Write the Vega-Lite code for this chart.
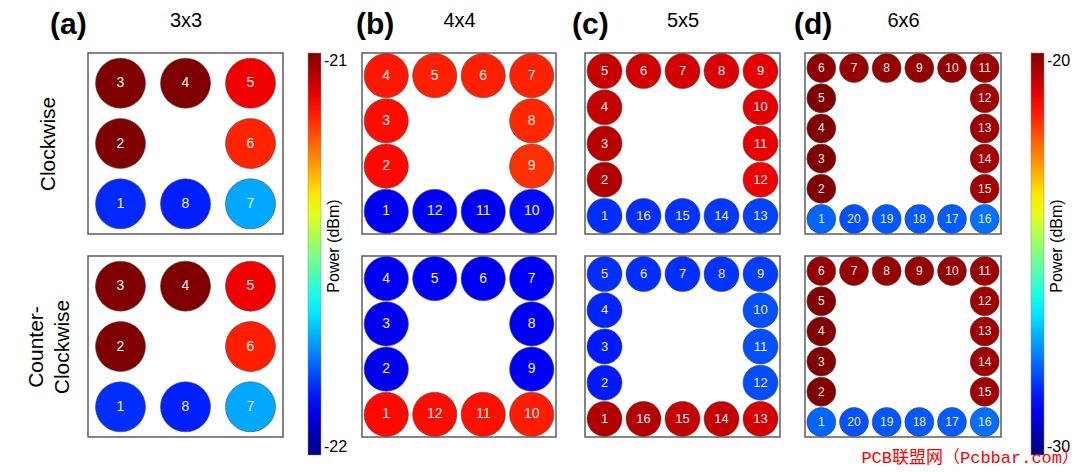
{
  "$schema": "https://vega.github.io/schema/vega-lite/v6.json",
  "padding": {"left": 24, "top": 9, "right": 0, "bottom": 0},
  "background": "white",
  "config": {
    "font": "Liberation Sans",
    "view": {"stroke": "#5e5e5e", "strokeWidth": 1.5},
    "axis": {"grid": false, "domain": false, "ticks": false, "labels": false, "titleColor": "black", "titleFont": "Liberation Sans", "titleFontWeight": "normal"},
    "title": {"color": "black", "font": "Liberation Sans"},
    "legend": {"labelFont": "Liberation Sans", "titleFont": "Liberation Sans", "labelColor": "black", "titleColor": "black"}
  },
  "title": {"text": "PCB联盟网（Pcbbar.com）", "orient": "bottom", "anchor": "end", "color": "#ff0000", "fontSize": 17, "font": "Liberation Mono, Noto Sans CJK SC", "fontWeight": "normal", "offset": -6, "dx": 8},
  "datasets": {
    "a_cw": [
      {"n": 3, "c": 1, "r": 1, "p": -21.0}, {"n": 4, "c": 2, "r": 1, "p": -21.0}, {"n": 5, "c": 3, "r": 1, "p": -21.11},
      {"n": 2, "c": 1, "r": 2, "p": -21.0}, {"n": 6, "c": 3, "r": 2, "p": -21.16},
      {"n": 1, "c": 1, "r": 3, "p": -21.835}, {"n": 8, "c": 2, "r": 3, "p": -21.845}, {"n": 7, "c": 3, "r": 3, "p": -21.71}
    ],
    "a_ccw": [
      {"n": 3, "c": 1, "r": 1, "p": -21.0}, {"n": 4, "c": 2, "r": 1, "p": -21.0}, {"n": 5, "c": 3, "r": 1, "p": -21.11},
      {"n": 2, "c": 1, "r": 2, "p": -21.0}, {"n": 6, "c": 3, "r": 2, "p": -21.155},
      {"n": 1, "c": 1, "r": 3, "p": -21.83}, {"n": 8, "c": 2, "r": 3, "p": -21.845}, {"n": 7, "c": 3, "r": 3, "p": -21.71}
    ],
    "b_cw": [
      {"n": 4, "c": 1, "r": 1, "p": -21.149}, {"n": 5, "c": 2, "r": 1, "p": -21.156}, {"n": 6, "c": 3, "r": 1, "p": -21.156}, {"n": 7, "c": 4, "r": 1, "p": -21.158},
      {"n": 3, "c": 1, "r": 2, "p": -21.137}, {"n": 8, "c": 4, "r": 2, "p": -21.164},
      {"n": 2, "c": 1, "r": 3, "p": -21.133}, {"n": 9, "c": 4, "r": 3, "p": -21.172},
      {"n": 1, "c": 1, "r": 4, "p": -21.89}, {"n": 12, "c": 2, "r": 4, "p": -21.885}, {"n": 11, "c": 3, "r": 4, "p": -21.89}, {"n": 10, "c": 4, "r": 4, "p": -21.867}
    ],
    "b_ccw": [
      {"n": 4, "c": 1, "r": 1, "p": -21.89}, {"n": 5, "c": 2, "r": 1, "p": -21.887}, {"n": 6, "c": 3, "r": 1, "p": -21.89}, {"n": 7, "c": 4, "r": 1, "p": -21.884},
      {"n": 3, "c": 1, "r": 2, "p": -21.893}, {"n": 8, "c": 4, "r": 2, "p": -21.887},
      {"n": 2, "c": 1, "r": 3, "p": -21.895}, {"n": 9, "c": 4, "r": 3, "p": -21.884},
      {"n": 1, "c": 1, "r": 4, "p": -21.133}, {"n": 12, "c": 2, "r": 4, "p": -21.137}, {"n": 11, "c": 3, "r": 4, "p": -21.141}, {"n": 10, "c": 4, "r": 4, "p": -21.152}
    ],
    "c_cw": [
      {"n": 5, "c": 1, "r": 1, "p": -21.071}, {"n": 6, "c": 2, "r": 1, "p": -21.079}, {"n": 7, "c": 3, "r": 1, "p": -21.083}, {"n": 8, "c": 4, "r": 1, "p": -21.087}, {"n": 9, "c": 5, "r": 1, "p": -21.099},
      {"n": 4, "c": 1, "r": 2, "p": -21.068}, {"n": 10, "c": 5, "r": 2, "p": -21.099},
      {"n": 3, "c": 1, "r": 3, "p": -21.056}, {"n": 11, "c": 5, "r": 3, "p": -21.103},
      {"n": 2, "c": 1, "r": 4, "p": -21.048}, {"n": 12, "c": 5, "r": 4, "p": -21.108},
      {"n": 1, "c": 1, "r": 5, "p": -21.83}, {"n": 16, "c": 2, "r": 5, "p": -21.83}, {"n": 15, "c": 3, "r": 5, "p": -21.825}, {"n": 14, "c": 4, "r": 5, "p": -21.82}, {"n": 13, "c": 5, "r": 5, "p": -21.81}
    ],
    "c_ccw": [
      {"n": 5, "c": 1, "r": 1, "p": -21.83}, {"n": 6, "c": 2, "r": 1, "p": -21.83}, {"n": 7, "c": 3, "r": 1, "p": -21.83}, {"n": 8, "c": 4, "r": 1, "p": -21.825}, {"n": 9, "c": 5, "r": 1, "p": -21.815},
      {"n": 4, "c": 1, "r": 2, "p": -21.84}, {"n": 10, "c": 5, "r": 2, "p": -21.797},
      {"n": 3, "c": 1, "r": 3, "p": -21.85}, {"n": 11, "c": 5, "r": 3, "p": -21.797},
      {"n": 2, "c": 1, "r": 4, "p": -21.85}, {"n": 12, "c": 5, "r": 4, "p": -21.8},
      {"n": 1, "c": 1, "r": 5, "p": -21.048}, {"n": 16, "c": 2, "r": 5, "p": -21.052}, {"n": 15, "c": 3, "r": 5, "p": -21.068}, {"n": 14, "c": 4, "r": 5, "p": -21.068}, {"n": 13, "c": 5, "r": 5, "p": -21.083}
    ],
    "d_cw": [
      {"n": 6, "c": 1, "r": 1, "p": -20.18}, {"n": 7, "c": 2, "r": 1, "p": -20.23}, {"n": 8, "c": 3, "r": 1, "p": -20.23}, {"n": 9, "c": 4, "r": 1, "p": -20.23}, {"n": 10, "c": 5, "r": 1, "p": -20.23}, {"n": 11, "c": 6, "r": 1, "p": -20.27},
      {"n": 5, "c": 1, "r": 2, "p": -20.01}, {"n": 12, "c": 6, "r": 2, "p": -20.32},
      {"n": 4, "c": 1, "r": 3, "p": -20.02}, {"n": 13, "c": 6, "r": 3, "p": -20.32},
      {"n": 3, "c": 1, "r": 4, "p": -20.02}, {"n": 14, "c": 6, "r": 4, "p": -20.37},
      {"n": 2, "c": 1, "r": 5, "p": -20.03}, {"n": 15, "c": 6, "r": 5, "p": -20.37},
      {"n": 1, "c": 1, "r": 6, "p": -27.77}, {"n": 20, "c": 2, "r": 6, "p": -27.97}, {"n": 19, "c": 3, "r": 6, "p": -27.89}, {"n": 18, "c": 4, "r": 6, "p": -27.89}, {"n": 17, "c": 5, "r": 6, "p": -27.85}, {"n": 16, "c": 6, "r": 6, "p": -27.65}
    ],
    "d_ccw": [
      {"n": 6, "c": 1, "r": 1, "p": -20.22}, {"n": 7, "c": 2, "r": 1, "p": -20.22}, {"n": 8, "c": 3, "r": 1, "p": -20.22}, {"n": 9, "c": 4, "r": 1, "p": -20.22}, {"n": 10, "c": 5, "r": 1, "p": -20.22}, {"n": 11, "c": 6, "r": 1, "p": -20.28},
      {"n": 5, "c": 1, "r": 2, "p": -20.03}, {"n": 12, "c": 6, "r": 2, "p": -20.33},
      {"n": 4, "c": 1, "r": 3, "p": -20.03}, {"n": 13, "c": 6, "r": 3, "p": -20.33},
      {"n": 3, "c": 1, "r": 4, "p": -20.03}, {"n": 14, "c": 6, "r": 4, "p": -20.33},
      {"n": 2, "c": 1, "r": 5, "p": -20.03}, {"n": 15, "c": 6, "r": 5, "p": -20.33},
      {"n": 1, "c": 1, "r": 6, "p": -27.77}, {"n": 20, "c": 2, "r": 6, "p": -27.96}, {"n": 19, "c": 3, "r": 6, "p": -27.9}, {"n": 18, "c": 4, "r": 6, "p": -27.88}, {"n": 17, "c": 5, "r": 6, "p": -27.85}, {"n": 16, "c": 6, "r": 6, "p": -27.66}
    ]
  },
  "spacing": 7,
  "resolve": {"scale": {"color": "independent", "x": "independent", "y": "independent"}},
  "hconcat": [
    {
      "bounds": "flush",
      "spacing": 22,
      "resolve": {"scale": {"color": "shared", "x": "independent", "y": "independent"}},
      "vconcat": [
        {
          "width": 195, "height": 181,
          "data": {"name": "a_cw"},
          "title": {"text": "(a)", "anchor": "start", "frame": "group", "dx": -38, "dy": 34, "fontSize": 30, "fontWeight": "bold"},
          "encoding": {
            "x": {"field": "c", "type": "quantitative", "scale": {"domain": [0.5, 3.5]}, "axis": {"orient": "top", "title": "3x3", "titleFontSize": 20, "titlePadding": 23}},
            "y": {"field": "r", "type": "quantitative", "scale": {"domain": [0.5, 3.5], "reverse": true}, "axis": {"title": "Clockwise", "titleFontSize": 21, "titlePadding": 30}}
          },
          "layer": [
            {"mark": {"type": "circle", "size": 2500, "opacity": 1, "stroke": "#4d4d4d", "strokeWidth": 0.6},
             "encoding": {"color": {"field": "p", "type": "quantitative",
               "scale": {"domain": [-22, -21.875, -21.625, -21.375, -21.125, -21], "range": ["#00007f", "#0000ff", "#00ffff", "#ffff00", "#ff0000", "#7f0000"], "interpolate": "rgb"},
               "legend": {"title": "Power (dBm)", "orient": "right", "offset": 24, "direction": "vertical", "gradientLength": 402, "gradientThickness": 13, "values": [-22, -21], "labelExpr": "'' + datum.value", "labelFontSize": 16, "labelOffset": 3, "titleOrient": "right", "titleFontSize": 16, "titleFontWeight": "normal", "titleAnchor": "middle", "titlePadding": -5, "gradientStrokeColor": "#888888", "gradientStrokeWidth": 0.5, "padding": 0, "encoding": {"title": {"angle": {"value": -90}, "dx": {"value": 8}}}}}}},
            {"mark": {"type": "text", "fontSize": 14, "color": "#eeeeee"}, "encoding": {"text": {"field": "n"}}}
          ]
        },
        {
          "width": 195, "height": 181,
          "data": {"name": "a_ccw"},
          "encoding": {
            "x": {"field": "c", "type": "quantitative", "scale": {"domain": [0.5, 3.5]}, "axis": null},
            "y": {"field": "r", "type": "quantitative", "scale": {"domain": [0.5, 3.5], "reverse": true}, "axis": {"title": ["Counter-", "Clockwise"], "titleFontSize": 21, "titleLineHeight": 26, "titlePadding": 16}}
          },
          "layer": [
            {"mark": {"type": "circle", "size": 2500, "opacity": 1, "stroke": "#4d4d4d", "strokeWidth": 0.6},
             "encoding": {"color": {"field": "p", "type": "quantitative",
               "scale": {"domain": [-22, -21.875, -21.625, -21.375, -21.125, -21], "range": ["#00007f", "#0000ff", "#00ffff", "#ffff00", "#ff0000", "#7f0000"], "interpolate": "rgb"},
               "legend": {"title": "Power (dBm)", "orient": "right", "offset": 24, "direction": "vertical", "gradientLength": 402, "gradientThickness": 13, "values": [-22, -21], "labelExpr": "'' + datum.value", "labelFontSize": 16, "labelOffset": 3, "titleOrient": "right", "titleFontSize": 16, "titleFontWeight": "normal", "titleAnchor": "middle", "titlePadding": -5, "gradientStrokeColor": "#888888", "gradientStrokeWidth": 0.5, "padding": 0, "encoding": {"title": {"angle": {"value": -90}, "dx": {"value": 8}}}}}}},
            {"mark": {"type": "text", "fontSize": 14, "color": "#eeeeee"}, "encoding": {"text": {"field": "n"}}}
          ]
        }
      ]
    },
    {
      "spacing": 12,
      "resolve": {"scale": {"color": "independent", "x": "independent", "y": "independent"}},
      "hconcat": [
        {
          "spacing": 14,
          "resolve": {"scale": {"color": "independent", "x": "independent", "y": "independent"}},
          "hconcat": [
            {
              "bounds": "flush",
              "spacing": 22,
              "resolve": {"scale": {"color": "shared", "x": "independent", "y": "independent"}},
              "vconcat": [
                {
                  "width": 194, "height": 181,
                  "data": {"name": "b_cw"},
                  "title": {"text": "(b)", "anchor": "start", "frame": "group", "dx": -6, "dy": 34, "fontSize": 30, "fontWeight": "bold"},
                  "encoding": {
                    "x": {"field": "c", "type": "quantitative", "scale": {"domain": [0.5, 4.5]}, "axis": {"orient": "top", "title": "4x4", "titleFontSize": 20, "titlePadding": 23}},
                    "y": {"field": "r", "type": "quantitative", "scale": {"domain": [0.5, 4.5], "reverse": true}, "axis": null}
                  },
                  "layer": [
                    {"mark": {"type": "circle", "size": 1960, "opacity": 1, "stroke": "#4d4d4d", "strokeWidth": 0.6},
                     "encoding": {"color": {"field": "p", "type": "quantitative",
                       "scale": {"domain": [-22, -21.875, -21.625, -21.375, -21.125, -21], "range": ["#00007f", "#0000ff", "#00ffff", "#ffff00", "#ff0000", "#7f0000"], "interpolate": "rgb"}, "legend": null}}},
                    {"mark": {"type": "text", "fontSize": 14, "color": "#eeeeee"}, "encoding": {"text": {"field": "n"}}}
                  ]
                },
                {
                  "width": 194, "height": 181,
                  "data": {"name": "b_ccw"},
                  "encoding": {
                    "x": {"field": "c", "type": "quantitative", "scale": {"domain": [0.5, 4.5]}, "axis": null},
                    "y": {"field": "r", "type": "quantitative", "scale": {"domain": [0.5, 4.5], "reverse": true}, "axis": null}
                  },
                  "layer": [
                    {"mark": {"type": "circle", "size": 1960, "opacity": 1, "stroke": "#4d4d4d", "strokeWidth": 0.6},
                     "encoding": {"color": {"field": "p", "type": "quantitative",
                       "scale": {"domain": [-22, -21.875, -21.625, -21.375, -21.125, -21], "range": ["#00007f", "#0000ff", "#00ffff", "#ffff00", "#ff0000", "#7f0000"], "interpolate": "rgb"}, "legend": null}}},
                    {"mark": {"type": "text", "fontSize": 14, "color": "#eeeeee"}, "encoding": {"text": {"field": "n"}}}
                  ]
                }
              ]
            },
            {
              "bounds": "flush",
              "spacing": 22,
              "resolve": {"scale": {"color": "shared", "x": "independent", "y": "independent"}},
              "vconcat": [
                {
                  "width": 195, "height": 181,
                  "data": {"name": "c_cw"},
                  "title": {"text": "(c)", "anchor": "start", "frame": "group", "dx": -13, "dy": 34, "fontSize": 30, "fontWeight": "bold"},
                  "encoding": {
                    "x": {"field": "c", "type": "quantitative", "scale": {"domain": [0.5, 5.5]}, "axis": {"orient": "top", "title": "5x5", "titleFontSize": 20, "titlePadding": 23}},
                    "y": {"field": "r", "type": "quantitative", "scale": {"domain": [0.5, 5.5], "reverse": true}, "axis": null}
                  },
                  "layer": [
                    {"mark": {"type": "circle", "size": 1225, "opacity": 1, "stroke": "#4d4d4d", "strokeWidth": 0.6},
                     "encoding": {"color": {"field": "p", "type": "quantitative",
                       "scale": {"domain": [-22, -21.875, -21.625, -21.375, -21.125, -21], "range": ["#00007f", "#0000ff", "#00ffff", "#ffff00", "#ff0000", "#7f0000"], "interpolate": "rgb"}, "legend": null}}},
                    {"mark": {"type": "text", "fontSize": 13, "color": "#eeeeee"}, "encoding": {"text": {"field": "n"}}}
                  ]
                },
                {
                  "width": 195, "height": 181,
                  "data": {"name": "c_ccw"},
                  "encoding": {
                    "x": {"field": "c", "type": "quantitative", "scale": {"domain": [0.5, 5.5]}, "axis": null},
                    "y": {"field": "r", "type": "quantitative", "scale": {"domain": [0.5, 5.5], "reverse": true}, "axis": null}
                  },
                  "layer": [
                    {"mark": {"type": "circle", "size": 1225, "opacity": 1, "stroke": "#4d4d4d", "strokeWidth": 0.6},
                     "encoding": {"color": {"field": "p", "type": "quantitative",
                       "scale": {"domain": [-22, -21.875, -21.625, -21.375, -21.125, -21], "range": ["#00007f", "#0000ff", "#00ffff", "#ffff00", "#ff0000", "#7f0000"], "interpolate": "rgb"}, "legend": null}}},
                    {"mark": {"type": "text", "fontSize": 13, "color": "#eeeeee"}, "encoding": {"text": {"field": "n"}}}
                  ]
                }
              ]
            }
          ]
        },
        {
          "bounds": "flush",
          "spacing": 22,
          "resolve": {"scale": {"color": "shared", "x": "independent", "y": "independent"}},
          "vconcat": [
            {
              "width": 196, "height": 181,
              "data": {"name": "d_cw"},
              "title": {"text": "(d)", "anchor": "start", "frame": "group", "dx": -11, "dy": 34, "fontSize": 30, "fontWeight": "bold"},
              "encoding": {
                "x": {"field": "c", "type": "quantitative", "scale": {"domain": [0.5, 6.5]}, "axis": {"orient": "top", "title": "6x6", "titleFontSize": 20, "titlePadding": 23}},
                "y": {"field": "r", "type": "quantitative", "scale": {"domain": [0.5, 6.5], "reverse": true}, "axis": null}
              },
              "layer": [
                {"mark": {"type": "circle", "size": 841, "opacity": 1, "stroke": "#4d4d4d", "strokeWidth": 0.6},
                 "encoding": {"color": {"field": "p", "type": "quantitative",
                   "scale": {"domain": [-30, -28.75, -26.25, -23.75, -21.25, -20], "range": ["#00007f", "#0000ff", "#00ffff", "#ffff00", "#ff0000", "#7f0000"], "interpolate": "rgb"},
                   "legend": {"title": "Power (dBm)", "orient": "right", "offset": 29, "direction": "vertical", "gradientLength": 402, "gradientThickness": 13, "values": [-30, -20], "labelExpr": "'' + datum.value", "labelFontSize": 16, "labelOffset": 3, "titleOrient": "right", "titleFontSize": 16, "titleFontWeight": "normal", "titleAnchor": "middle", "titlePadding": -5, "gradientStrokeColor": "#888888", "gradientStrokeWidth": 0.5, "padding": 0, "encoding": {"title": {"angle": {"value": -90}, "dx": {"value": 8}}}}}}},
                {"mark": {"type": "text", "fontSize": 12, "color": "#eeeeee"}, "encoding": {"text": {"field": "n"}}}
              ]
            },
            {
              "width": 196, "height": 181,
              "data": {"name": "d_ccw"},
              "encoding": {
                "x": {"field": "c", "type": "quantitative", "scale": {"domain": [0.5, 6.5]}, "axis": null},
                "y": {"field": "r", "type": "quantitative", "scale": {"domain": [0.5, 6.5], "reverse": true}, "axis": null}
              },
              "layer": [
                {"mark": {"type": "circle", "size": 841, "opacity": 1, "stroke": "#4d4d4d", "strokeWidth": 0.6},
                 "encoding": {"color": {"field": "p", "type": "quantitative",
                   "scale": {"domain": [-30, -28.75, -26.25, -23.75, -21.25, -20], "range": ["#00007f", "#0000ff", "#00ffff", "#ffff00", "#ff0000", "#7f0000"], "interpolate": "rgb"},
                   "legend": {"title": "Power (dBm)", "orient": "right", "offset": 29, "direction": "vertical", "gradientLength": 402, "gradientThickness": 13, "values": [-30, -20], "labelExpr": "'' + datum.value", "labelFontSize": 16, "labelOffset": 3, "titleOrient": "right", "titleFontSize": 16, "titleFontWeight": "normal", "titleAnchor": "middle", "titlePadding": -5, "gradientStrokeColor": "#888888", "gradientStrokeWidth": 0.5, "padding": 0, "encoding": {"title": {"angle": {"value": -90}, "dx": {"value": 8}}}}}}},
                {"mark": {"type": "text", "fontSize": 12, "color": "#eeeeee"}, "encoding": {"text": {"field": "n"}}}
              ]
            }
          ]
        }
      ]
    }
  ]
}
